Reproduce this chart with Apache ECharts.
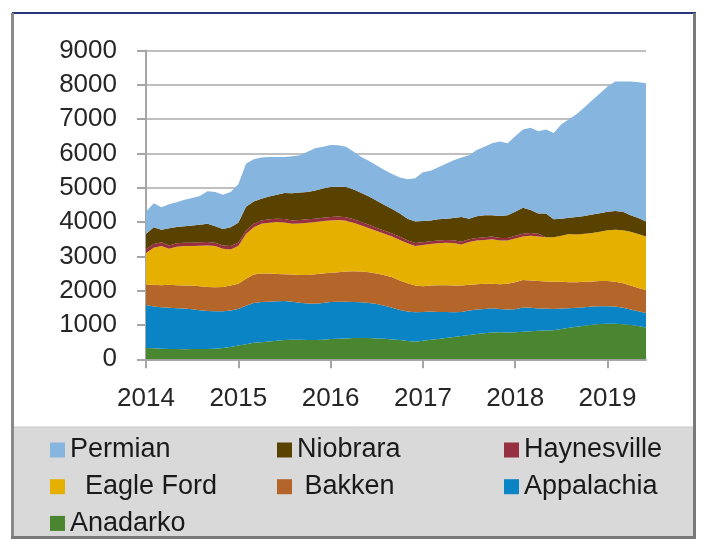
<!DOCTYPE html>
<html>
<head>
<meta charset="utf-8">
<script src="https://cdn.jsdelivr.net/npm/echarts@6/dist/echarts.min.js"></script>
<style>
html,body{margin:0;padding:0;background:#fff;}
#c{width:709px;height:555px;}
</style>
</head>
<body>
<div id="c"></div>
<script>
var months = [
'2014-01','2014-02','2014-03','2014-04','2014-05','2014-06','2014-07','2014-08','2014-09','2014-10','2014-11','2014-12',
'2015-01','2015-02','2015-03','2015-04','2015-05','2015-06','2015-07','2015-08','2015-09','2015-10','2015-11','2015-12',
'2016-01','2016-02','2016-03','2016-04','2016-05','2016-06','2016-07','2016-08','2016-09','2016-10','2016-11','2016-12',
'2017-01','2017-02','2017-03','2017-04','2017-05','2017-06','2017-07','2017-08','2017-09','2017-10','2017-11','2017-12',
'2018-01','2018-02','2018-03','2018-04','2018-05','2018-06','2018-07','2018-08','2018-09','2018-10','2018-11','2018-12',
'2019-01','2019-02','2019-03','2019-04','2019-05','2019-06'
];
var yTicks = [0,1000,2000,3000,4000,5000,6000,7000,8000,9000];

var anadarko = [
330,320,310,300,300,290,300,300,300,310,330,360,
400,440,480,500,520,540,560,570,570,560,560,570,
590,600,610,620,620,620,610,600,580,560,530,510,
540,570,590,620,650,680,710,740,760,780,790,780,
790,800,820,830,840,850,880,920,950,980,1010,1030,
1040,1040,1020,1000,970,930
];
var appalachia = [
1250,1220,1210,1200,1190,1190,1160,1130,1110,1090,1070,1060,
1070,1120,1160,1170,1160,1150,1140,1110,1080,1070,1060,1070,
1080,1080,1070,1050,1040,1020,1000,960,920,880,860,860,
840,820,790,760,720,700,710,710,710,710,680,670,
670,710,680,650,640,620,600,570,550,540,530,520,
510,500,480,450,430,420
];
var bakken = [
600,630,640,670,670,670,690,700,700,700,710,730,
730,790,830,830,820,800,780,790,810,830,860,860,
850,860,880,900,900,900,890,890,890,860,830,780,
750,760,780,780,780,770,750,740,730,710,720,750,
790,800,800,800,790,790,780,760,750,740,730,730,
730,720,720,700,680,670
];
var eagleFord = [
920,1080,1140,1050,1120,1150,1150,1180,1210,1200,1110,1050,
1100,1300,1380,1450,1480,1510,1510,1480,1500,1520,1520,1530,
1530,1520,1480,1410,1340,1280,1240,1210,1190,1180,1160,1150,
1200,1210,1220,1240,1240,1200,1250,1270,1280,1300,1270,1260,
1270,1270,1300,1300,1290,1300,1340,1400,1390,1400,1410,1440,
1480,1520,1540,1570,1570,1560
];
var haynesville = [
110,110,110,100,100,100,100,100,100,100,100,100,
100,100,100,100,100,100,100,100,100,100,100,100,
100,100,100,100,100,100,90,90,90,90,90,90,
80,80,80,80,80,80,80,80,80,80,80,80,
80,80,80,80,0,0,0,0,0,0,0,0,
0,0,0,0,0,0
];
var niobrara = [
440,490,370,500,480,480,500,510,530,480,480,550,
580,700,650,630,670,700,760,790,800,800,820,850,
870,870,880,870,850,830,790,750,710,680,630,630,
620,610,620,620,650,720,600,630,640,620,640,660,
700,760,670,590,690,520,500,480,510,520,540,540,
540,540,540,480,470,440
];
var permian = [
650,700,650,700,720,770,800,840,950,1000,1000,1030,
1120,1250,1230,1200,1150,1100,1050,1080,1090,1170,1230,1220,
1230,1210,1180,1100,1050,1030,1030,1020,1020,1050,1150,1260,
1420,1450,1520,1600,1680,1730,1850,1930,2000,2100,2170,2100,
2200,2280,2400,2400,2450,2520,2750,2870,3000,3170,3330,3490,
3650,3780,3800,3900,3960,4030
];

var seriesDefs = [
  {name:'Anadarko', data:anadarko, color:'#4a8530'},
  {name:'Appalachia', data:appalachia, color:'#0a84c4'},
  {name:'Bakken', data:bakken, color:'#b4652a'},
  {name:'Eagle Ford', data:eagleFord, color:'#e6b000'},
  {name:'Haynesville', data:haynesville, color:'#963040'},
  {name:'Niobrara', data:niobrara, color:'#594100'},
  {name:'Permian', data:permian, color:'#86b5e0'}
];

var FONT = 'Liberation Sans';
var legendText = {fontFamily: FONT, fontSize: 27, color: '#1a1a1a', lineHeight: 30};
function legendFmt(n){ if(n==='Eagle Ford') return '  '+n; if(n==='Bakken') return ' '+n; return n; }
function mkLegend(left, names){
  return {orient:'vertical', left:left, top:430, itemWidth:15, itemHeight:15, itemGap:6.7,
    icon:'rect', selectedMode:false, textStyle:legendText, formatter:legendFmt, data:names};
}

var chart = echarts.init(document.getElementById('c'), null, {renderer:'canvas'});
chart.setOption({
  backgroundColor:'#ffffff',
  animation:false,
  graphic:[
    {type:'rect', z:-10, shape:{x:12,y:12,width:683,height:526}, style:{fill:'#ffffff'}},
    {type:'rect', z:-9, shape:{x:12,y:427,width:683,height:111}, style:{fill:'#d9d9d9'}},
    {type:'line', z:-8, shape:{x1:12,y1:427,x2:695,y2:427}, style:{stroke:'#c8c8c8', lineWidth:1}},
    {type:'line', z:-8, shape:{x1:12,y1:13,x2:696,y2:13}, style:{stroke:'#27367a', lineWidth:2}},
    {type:'line', z:-8, shape:{x1:12.5,y1:13,x2:12.5,y2:538}, style:{stroke:'#8a8a8a', lineWidth:3}},
    {type:'line', z:-8, shape:{x1:694.5,y1:13,x2:694.5,y2:538}, style:{stroke:'#7a7a7a', lineWidth:3}},
    {type:'line', z:-8, shape:{x1:11,y1:537.5,x2:696,y2:537.5}, style:{stroke:'#7a7a7a', lineWidth:3}}
  ],
  legend:[
    mkLegend(45, ['Permian','Eagle Ford','Anadarko']),
    mkLegend(272, ['Niobrara','Bakken']),
    mkLegend(499, ['Haynesville','Appalachia'])
  ],
  grid:{left:146, right:63, top:50.6, bottom:195.7, containLabel:false},
  xAxis:{
    type:'category', data:months, boundaryGap:false,
    axisLine:{show:true, lineStyle:{color:'#a6a6a6', width:2}},
    axisTick:{show:true, length:9, interval:function(i){return i%12===0;}, lineStyle:{color:'#a6a6a6', width:2}},
    axisLabel:{interval:function(i){return i%12===0;}, formatter:function(v){return v.slice(0,4);},
      fontFamily:FONT, fontSize:26, color:'#262626', margin:27},
    splitLine:{show:false}
  },
  yAxis:{
    type:'value', min:yTicks[0], max:yTicks[yTicks.length-1], interval:1000,
    axisLine:{show:true, lineStyle:{color:'#a6a6a6', width:2}},
    axisTick:{show:true, length:9, lineStyle:{color:'#a6a6a6', width:2}},
    axisLabel:{fontFamily:FONT, fontSize:26, color:'#262626', margin:29, formatter:function(v){return String(v);}},
    splitLine:{show:true, lineStyle:{color:'#bfbfbf', width:2}}
  },
  series: seriesDefs.map(function(s){
    return {name:s.name, type:'line', stack:'total', data:s.data, showSymbol:false, symbol:'none',
      itemStyle:{color:s.color}, lineStyle:{width:0, color:s.color},
      areaStyle:{color:s.color, opacity:1}, emphasis:{disabled:true}};
  })
});
</script>
</body>
</html>
